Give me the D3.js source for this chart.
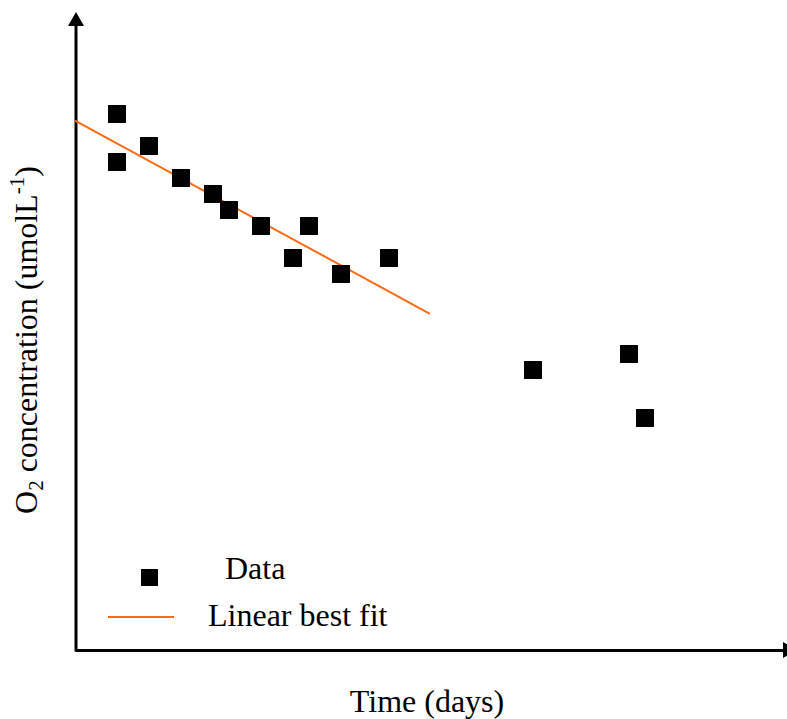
<!DOCTYPE html>
<html>
<head>
<meta charset="utf-8">
<script src="https://cdn.jsdelivr.net/npm/d3@7"></script>
<style>
  html, body { margin: 0; padding: 0; background: #fff; }
  svg { display: block; }
  text { font-family: "Liberation Serif", "Times New Roman", serif; fill: #000; }
</style>
</head>
<body>
<svg id="chart" width="787" height="719"></svg>
<script>
// ---- data ----
const days = [1, 1, 3, 5, 7, 8, 10, 12, 13, 15, 18, 27, 33, 34];
const o2   = [33, 30, 31, 29, 28, 27, 26, 24, 26, 23, 24, 17, 18, 14];
const fitDays = [-1.625, 20.56];
const fitIntercept = 31.70;
const fitSlope = -0.544;
const legendLabels = ["Data", "Linear best fit"];
const xTitle = "Time (days)";

const svg = d3.select("#chart");
const x = d3.scaleLinear().domain([-1.625, 42.875]).range([75, 787]);
const y = d3.scaleLinear().domain([-0.5, 39.25]).range([650, 14]);

const ax = x.range()[0] + 1;
const ay = y.range()[0];

// axes (no ticks)
const gx = svg.append("g").attr("transform", `translate(0,${ay})`)
  .call(d3.axisBottom(x).tickValues([]).tickSizeOuter(0));
gx.select(".domain").attr("stroke", "#000").attr("stroke-width", 3);
const gy = svg.append("g").attr("transform", `translate(${ax},0)`)
  .call(d3.axisLeft(y).tickValues([]).tickSizeOuter(0));
gy.select(".domain").attr("stroke", "#000").attr("stroke-width", 3)
  .attr("d", `M0,${ay + 1.5}V${y.range()[1] + 10}`);

// arrow heads
const yTop = y.range()[1] - 2;
svg.append("path")
  .attr("d", `M${ax},${yTop} L${ax - 8},${yTop + 14} L${ax + 8},${yTop + 14} Z`)
  .attr("fill", "#000");
const xEnd = 797;
svg.append("path")
  .attr("d", `M${xEnd},${ay} L${xEnd - 14},${ay - 8} L${xEnd - 14},${ay + 8} Z`)
  .attr("fill", "#000");

// fit line
const line = d3.line().x(d => x(d)).y(d => y(fitIntercept + fitSlope * d));
svg.append("path").datum(fitDays)
  .attr("d", line)
  .attr("fill", "none")
  .attr("stroke", "#FF6A13")
  .attr("stroke-width", 2);

// data squares
const s = 18;
svg.append("g").selectAll("rect")
  .data(days.map((d, i) => ({ t: d, v: o2[i] })))
  .join("rect")
  .attr("x", d => x(d.t) - s / 2)
  .attr("y", d => y(d.v) - s / 2)
  .attr("width", s)
  .attr("height", s)
  .attr("fill", "#000");

// legend
svg.append("rect").attr("x", 141).attr("y", 569).attr("width", 17).attr("height", 17).attr("fill", "#000");
svg.append("text").attr("x", 225).attr("y", 579).attr("font-size", 32).text(legendLabels[0]);
svg.append("line").attr("x1", 108).attr("x2", 174).attr("y1", 617).attr("y2", 617)
  .attr("stroke", "#FF6A13").attr("stroke-width", 2);
svg.append("text").attr("x", 208).attr("y", 626).attr("font-size", 32).text(legendLabels[1]);

// x title
svg.append("text").attr("x", 427).attr("y", 712).attr("text-anchor", "middle")
  .attr("font-size", 32).text(xTitle);

// y title
const yt = svg.append("text")
  .attr("transform", "translate(37,340) rotate(-90)")
  .attr("text-anchor", "middle")
  .attr("font-size", 32);
yt.append("tspan").text("O");
yt.append("tspan").attr("font-size", 21).attr("dy", 6).text("2");
yt.append("tspan").attr("dy", -6).text(" concentration (umolL");
yt.append("tspan").attr("font-size", 21).attr("dy", -13).text("-1");
yt.append("tspan").attr("dy", 13).text(")");
</script>
</body>
</html>
